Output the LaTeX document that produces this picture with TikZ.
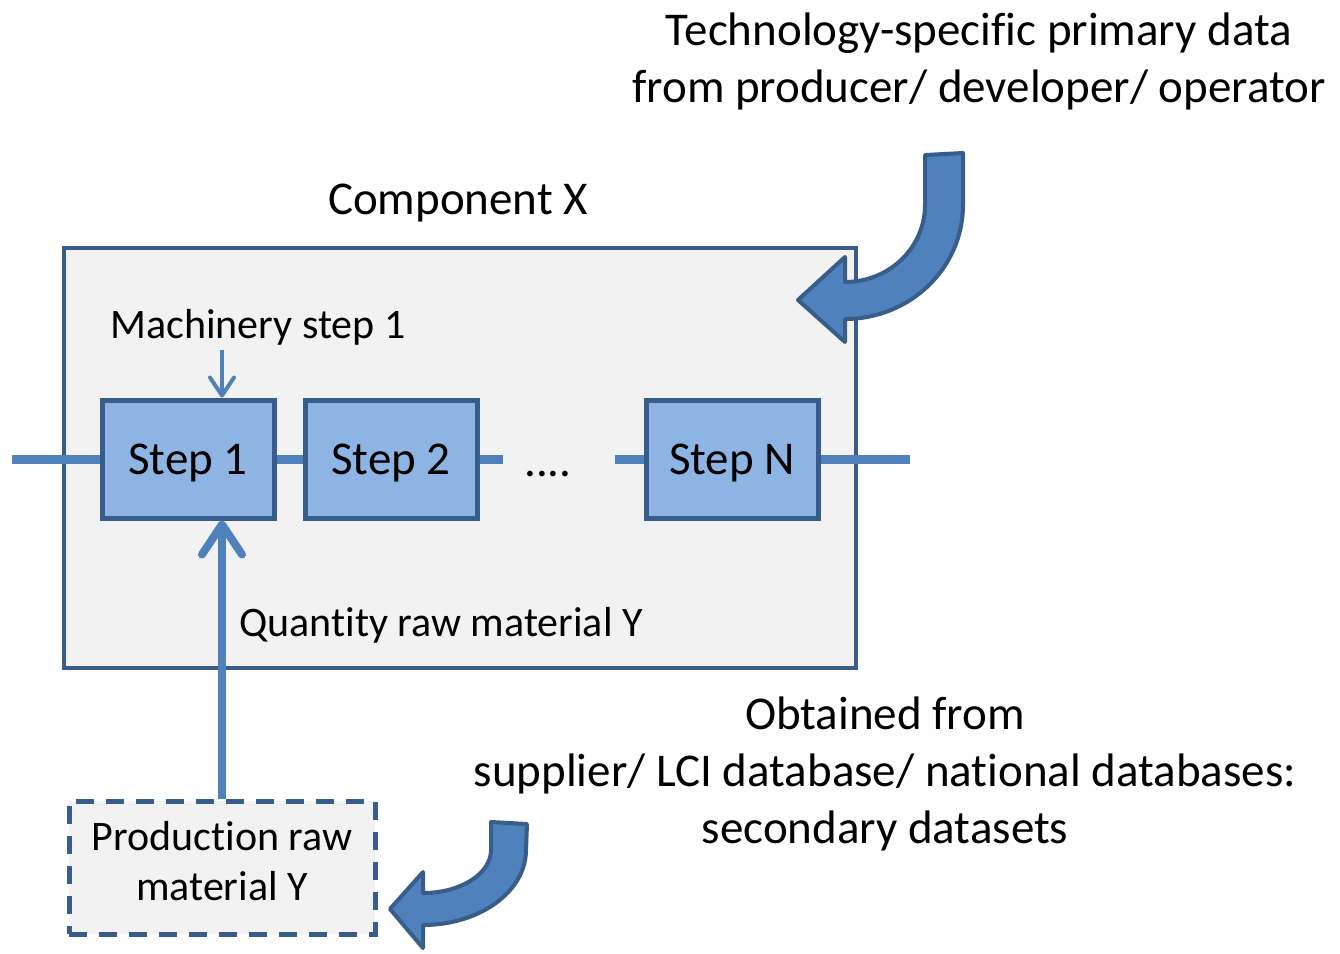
\documentclass[tikz,border=0pt]{standalone}
\usepackage{fontspec}
\setmainfont{Carlito}[Ligatures=NoCommon]
\usetikzlibrary{positioning,arrows.meta}
\definecolor{boxgrey}{HTML}{F2F2F2}
\definecolor{darkblue}{HTML}{385D8A}
\definecolor{stepblue}{HTML}{8EB4E3}
\definecolor{lineblue}{HTML}{4F81BD}
\tikzset{bigtext/.style={font=\fontsize{47}{57}\selectfont,inner sep=0pt}}
\tikzset{smalltext/.style={font=\fontsize{42}{50}\selectfont,inner sep=0pt}}
\tikzset{component/.style={draw=darkblue,fill=boxgrey,line width=4pt,minimum width=792pt,minimum height=420pt}}
\tikzset{stepbox/.style={draw=darkblue,fill=stepblue,line width=5pt,minimum width=172pt,minimum height=118pt,bigtext,text depth=0pt}}
\tikzset{external/.style={draw=darkblue,fill=boxgrey,line width=5pt,dash pattern=on 18pt off 12pt,minimum width=306pt,minimum height=133pt,smalltext,align=center}}
\tikzset{flow/.style={draw=lineblue,line width=9pt}}
\tikzset{feed/.style={draw=lineblue,line width=8pt,-{Straight Barb[length=30pt,width=40pt,round]}}}
\tikzset{thinfeed/.style={draw=lineblue,line width=4pt,-{Straight Barb[length=18pt,width=24pt,round]}}}
\tikzset{bendarrow/.style={draw=darkblue,fill=lineblue,line width=4pt,line join=round}}

\begin{document}
\begin{tikzpicture}[x=1pt,y=-1pt]
    \useasboundingbox (0,0) rectangle (1340,953);
    % component box and its steps
    \node[component] (compX) at (460,458) {};
    \node[bigtext,anchor=base] (compXlabel) at (458,214) {Component X};
    \node[stepbox] (step1) at (188,459) {Step 1};
    \node[stepbox,right=26pt of step1] (step2) {Step 2};
    \node[stepbox] (stepN) at (732,459) {Step N};
    \node[bigtext,anchor=base] (dots) at (548,476) {....};
    \coordinate (in) at (12,459);
    \coordinate (midA) at (503,459);
    \coordinate (midB) at (615,459);
    \coordinate (out) at (910,459);
        \path[flow] (in) -- (step1.west);
        \path[flow] (step1.east) -- (step2.west);
        \path[flow] (step2.east) -- (midA);
        \path[flow] (midB) -- (stepN.west);
        \path[flow] (stepN.east) -- (out);
    % machinery input
    \node[smalltext,anchor=base] (mach) at (258,338) {Machinery step 1};
    \coordinate (machtop) at (222,350);
        \path[thinfeed] (machtop) -- (machtop |- step1.north);
    % raw material
    \node[external] (prod) at (222,867.5) {Production raw\\material Y\vspace{12pt}};
        \path[feed] (prod.north) -- (prod.north |- step1.south);
    \node[smalltext,anchor=base] (qty) at (441,636) {Quantity raw material Y};
    % data sources
    \node[bigtext,anchor=base,align=center] (primary) at (979,102) {Technology-specific primary data\\from producer/ developer/ operator};
    \node[bigtext,anchor=base,align=center] (secondary) at (885,843) {Obtained from\\supplier/ LCI database/ national databases:\\secondary datasets};
    % curved arrows
    \path[bendarrow] (925,155) -- (963,153) -- (963,205)
        arc[start angle=0,end angle=90,x radius=118,y radius=114]
        -- (845,342) -- (798,300) -- (845,257) -- (845,282)
        arc[start angle=90,end angle=0,x radius=80,y radius=77] -- cycle;
    \path[bendarrow] (491,822) -- (527,824) -- (526,850)
        arc[start angle=0,end angle=90,x radius=103,y radius=75]
        -- (423,948) -- (390,909) -- (423,872) -- (423,893)
        arc[start angle=90,end angle=0,x radius=68,y radius=43] -- cycle;
\end{tikzpicture}
\end{document}
